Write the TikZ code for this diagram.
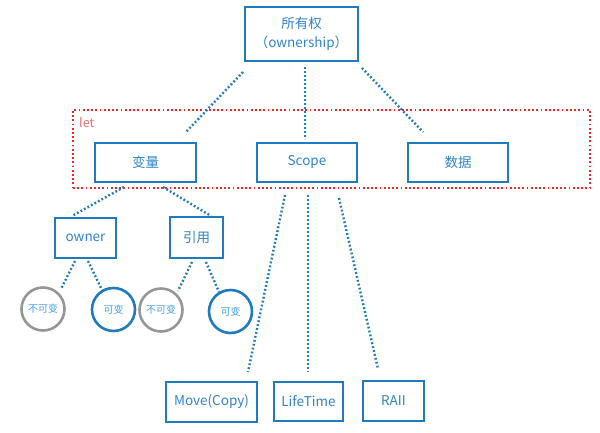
\documentclass[tikz,border=0pt]{standalone}
\usepackage{fontspec}
\setmainfont{Noto Sans CJK SC}
\definecolor{bstroke}{RGB}{32,122,190}
\definecolor{btext}{RGB}{48,132,200}
\definecolor{ctext}{RGB}{70,160,222}
\definecolor{gstroke}{RGB}{150,150,150}
\definecolor{rdot}{RGB}{232,40,36}
\definecolor{rlabel}{RGB}{240,110,110}
\tikzset{
  box/.style={draw=bstroke, line width=2.6pt, text=btext, inner sep=0pt, font=\fontsize{13.5}{19}\selectfont, align=center},
  circg/.style={circle, draw=gstroke, line width=2.6pt, text=ctext, inner sep=0pt, minimum size=43pt, font=\fontsize{10}{12}\selectfont},
  circb/.style={circle, draw=bstroke, line width=2.6pt, text=ctext, inner sep=0pt, minimum size=43pt, font=\fontsize{10}{12}\selectfont},
  conn/.style={draw=bstroke, line width=2.4pt, dash pattern=on 1.8pt off 2.2pt},
  letbox/.style={draw=rdot, line width=2.4pt, dash pattern=on 1.8pt off 2.4pt}
}
\begin{document}
\begin{tikzpicture}[x=1pt,y=-1pt]
\fill[white] (0,0) rectangle (600,432);
\useasboundingbox (0,0) rectangle (600,432);
% let region
\node[letbox, minimum width=517pt, minimum height=78pt, inner sep=0pt] (let) at (331.5,149) {};
\node[text=rlabel, font=\fontsize{12.5}{14}\selectfont, anchor=west, inner sep=0pt] (letlabel) at (79,123) {let};
% nodes
\node[box, minimum width=113pt, minimum height=54pt] (top) at (301.5,34) {所有权\\（ownership）};
\node[box, minimum width=101pt, minimum height=39pt] (var) at (145.5,162.5) {变量};
\node[box, minimum width=100pt, minimum height=39pt] (scope) at (307,162.5) {Scope};
\node[box, minimum width=100pt, minimum height=39pt] (data) at (458,162.5) {数据};
\node[box, minimum width=61pt, minimum height=40pt] (owner) at (85.5,238) {owner};
\node[box, minimum width=53pt, minimum height=41pt] (ref) at (196.5,237.5) {引用};
\node[circg] (c1) at (43,309) {不可变};
\node[circb] (c2) at (113.5,309.5) {可变};
\node[circg] (c3) at (161,310) {不可变};
\node[circb] (c4) at (230.5,311.5) {可变};
\node[box, minimum width=91pt, minimum height=40pt] (move) at (211.5,402) {Move(Copy)};
\node[box, minimum width=69pt, minimum height=39pt] (life) at (308.5,401.5) {LifeTime};
\node[box, minimum width=61pt, minimum height=40pt] (raii) at (393.5,401) {RAII};
% connectors
\draw[conn] ([shift={(-58.5,38)}]top.center) -- ([shift={(40.5,-30.5)}]var.center);
\draw[conn] ([shift={(3.5,33)}]top.center) -- ([shift={(-2,-23.5)}]scope.center);
\draw[conn] ([shift={(60.5,34)}]top.center) -- ([shift={(-35,-30.5)}]data.center);
\draw[conn] ([shift={(-21.5,24.5)}]var.center) -- ([shift={(-13.5,-22)}]owner.center);
\draw[conn] ([shift={(17.5,24.5)}]var.center) -- ([shift={(14.5,-21.5)}]ref.center);
\draw[conn] ([shift={(-10.5,23)}]owner.center) -- ([shift={(18,-20)}]c1.center);
\draw[conn] ([shift={(2.5,23)}]owner.center) -- ([shift={(-11.5,-19.5)}]c2.center);
\draw[conn] ([shift={(-4.5,24.5)}]ref.center) -- ([shift={(17,-19)}]c3.center);
\draw[conn] ([shift={(9.5,24.5)}]ref.center) -- ([shift={(-11.5,-19.5)}]c4.center);
\draw[conn] ([shift={(-22,32.5)}]scope.center) -- ([shift={(36.5,-30)}]move.center);
\draw[conn] ([shift={(1,32.5)}]scope.center) -- ([shift={(-0.5,-29.5)}]life.center);
\draw[conn] ([shift={(32,35.5)}]scope.center) -- ([shift={(-15.5,-32)}]raii.center);
\end{tikzpicture}
\end{document}
